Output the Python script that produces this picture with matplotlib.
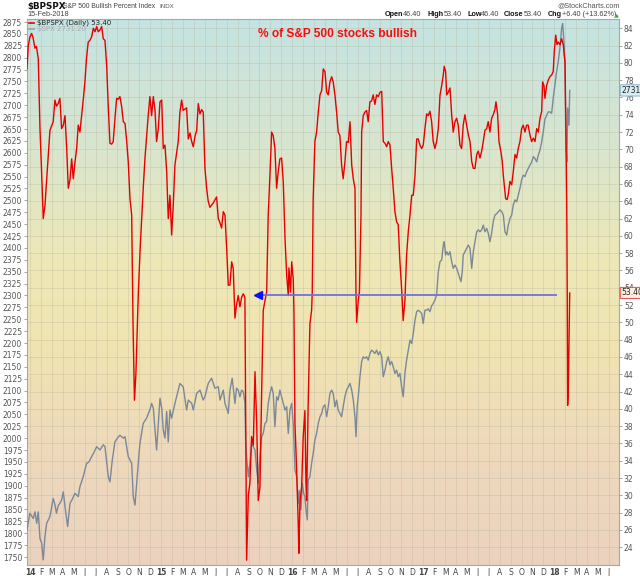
import numpy as np
import matplotlib
matplotlib.use("Agg")
import matplotlib.pyplot as plt
from matplotlib.lines import Line2D
from matplotlib.transforms import blended_transform_factory

# ---------------- data (decimal year, value) ----------------
bpi_2014 = [(2013.976, 79.3), (2013.986, 82.0), (2013.998, 83.0), (2014.011, 83.4), (2014.021, 83.0),
            (2014.037, 81.7), (2014.048, 81.9), (2014.062, 80.5), (2014.075, 72.4), (2014.086, 68.0),
            (2014.100, 62.0), (2014.113, 63.5), (2014.128, 67.0), (2014.151, 72.2), (2014.176, 73.2),
            (2014.189, 75.7), (2014.201, 75.0), (2014.214, 75.3), (2014.227, 75.9), (2014.240, 72.4),
            (2014.253, 72.8), (2014.266, 73.9), (2014.279, 70.1), (2014.291, 65.5), (2014.304, 66.5),
            (2014.317, 68.9), (2014.329, 66.6), (2014.342, 68.5), (2014.355, 70.1), (2014.367, 72.8),
            (2014.380, 72.0), (2014.393, 73.9), (2014.407, 76.0), (2014.418, 77.8), (2014.430, 80.5),
            (2014.443, 82.4), (2014.456, 82.6), (2014.469, 83.0), (2014.482, 84.0), (2014.495, 83.6),
            (2014.508, 84.2), (2014.520, 83.6), (2014.533, 83.8), (2014.546, 84.2), (2014.558, 82.8),
            (2014.571, 82.6), (2014.584, 79.7), (2014.596, 75.0), (2014.609, 70.7), (2014.622, 70.6),
            (2014.634, 70.9), (2014.647, 73.5), (2014.660, 75.9), (2014.672, 75.8), (2014.685, 76.1),
            (2014.698, 75.0), (2014.711, 73.2), (2014.724, 73.0), (2014.737, 70.9), (2014.749, 68.5),
            (2014.762, 64.3), (2014.775, 62.4), (2014.785, 50.0), (2014.796, 41.0), (2014.807, 44.0),
            (2014.825, 53.1), (2014.838, 58.0), (2014.851, 62.0), (2014.863, 65.5), (2014.876, 68.9),
            (2014.889, 71.5), (2014.901, 73.9), (2014.914, 76.1), (2014.927, 73.9), (2014.940, 76.1),
            (2014.953, 74.5), (2014.965, 70.9), (2014.978, 72.4), (2014.991, 75.5)]
bpi_2015 = [(2015.004, 75.7), (2015.016, 70.1), (2015.029, 70.5), (2015.042, 67.4), (2015.054, 62.0),
            (2015.067, 64.7), (2015.080, 60.1), (2015.092, 63.5), (2015.105, 68.2), (2015.130, 70.9),
            (2015.143, 74.3), (2015.156, 75.7), (2015.168, 74.5), (2015.194, 74.8), (2015.207, 71.2),
            (2015.220, 71.9), (2015.233, 70.9), (2015.245, 70.3), (2015.258, 71.5), (2015.271, 72.2),
            (2015.283, 75.3), (2015.296, 74.1), (2015.309, 74.6), (2015.321, 74.3), (2015.334, 67.8),
            (2015.347, 65.5), (2015.359, 64.0), (2015.372, 63.3), (2015.397, 63.8), (2015.423, 64.5),
            (2015.436, 62.0), (2015.449, 61.5), (2015.461, 60.9), (2015.474, 62.8), (2015.487, 62.4),
            (2015.500, 58.5), (2015.512, 54.3), (2015.525, 54.3), (2015.538, 57.0), (2015.550, 56.2),
            (2015.563, 50.5), (2015.575, 52.0), (2015.588, 53.1), (2015.601, 51.8), (2015.614, 52.9),
            (2015.626, 53.3), (2015.639, 52.9), (2015.652, 22.5), (2015.665, 30.0), (2015.677, 31.4),
            (2015.690, 36.8), (2015.703, 35.8), (2015.716, 44.3), (2015.729, 38.3), (2015.741, 29.4),
            (2015.754, 31.0), (2015.767, 42.1), (2015.779, 51.4), (2015.792, 52.5), (2015.805, 53.5),
            (2015.817, 62.4), (2015.830, 67.0), (2015.843, 72.0), (2015.855, 71.6), (2015.868, 70.1),
            (2015.881, 65.5), (2015.893, 67.4), (2015.906, 68.9), (2015.919, 69.0), (2015.932, 66.2),
            (2015.945, 59.7), (2015.958, 55.4), (2015.970, 53.1), (2015.975, 56.3), (2015.987, 53.5),
            (2015.996, 57.0)]
bpi_2016 = [(2016.008, 55.0), (2016.013, 51.6), (2016.021, 38.3), (2016.034, 32.9), (2016.046, 26.7),
            (2016.051, 23.3), (2016.059, 29.2), (2016.072, 31.0), (2016.084, 36.8), (2016.097, 39.8),
            (2016.105, 31.4), (2016.110, 29.4), (2016.122, 40.6), (2016.135, 49.8), (2016.148, 51.4),
            (2016.153, 53.5), (2016.160, 64.3), (2016.173, 70.9), (2016.186, 72.0), (2016.199, 74.3),
            (2016.212, 76.3), (2016.225, 76.8), (2016.237, 79.3), (2016.250, 79.0), (2016.263, 76.6),
            (2016.275, 76.3), (2016.288, 77.8), (2016.301, 78.4), (2016.313, 77.8), (2016.326, 76.3),
            (2016.339, 74.3), (2016.351, 72.0), (2016.364, 71.6), (2016.377, 68.2), (2016.389, 66.6),
            (2016.402, 68.5), (2016.415, 70.9), (2016.428, 70.8), (2016.441, 73.2), (2016.454, 68.2),
            (2016.466, 66.6), (2016.479, 65.5), (2016.487, 53.0), (2016.492, 50.0), (2016.504, 52.5),
            (2016.513, 53.5), (2016.525, 62.4), (2016.530, 72.0), (2016.542, 73.9), (2016.555, 74.3),
            (2016.568, 74.5), (2016.580, 73.2), (2016.593, 75.5), (2016.606, 75.6), (2016.618, 76.3),
            (2016.631, 75.2), (2016.644, 76.3), (2016.657, 76.1), (2016.670, 76.6), (2016.683, 76.7),
            (2016.695, 70.9), (2016.708, 70.7), (2016.721, 70.3), (2016.733, 70.9), (2016.746, 70.5),
            (2016.759, 67.8), (2016.771, 65.5), (2016.784, 62.8), (2016.797, 61.6), (2016.809, 61.3),
            (2016.822, 57.0), (2016.835, 53.9), (2016.847, 50.2), (2016.860, 52.5), (2016.873, 57.8),
            (2016.886, 60.5), (2016.899, 62.4), (2016.912, 64.7), (2016.924, 64.7), (2016.937, 67.0),
            (2016.950, 71.2), (2016.962, 71.2), (2016.975, 70.5), (2016.988, 70.1)]
bpi_2017 = [(2017.000, 70.5), (2017.013, 72.4), (2017.026, 74.1), (2017.038, 73.9), (2017.051, 74.4),
            (2017.064, 73.2), (2017.076, 70.9), (2017.089, 70.1), (2017.102, 70.9), (2017.115, 72.4),
            (2017.128, 76.3), (2017.141, 77.4), (2017.153, 78.6), (2017.160, 79.6), (2017.171, 79.0),
            (2017.179, 76.3), (2017.191, 76.6), (2017.204, 77.1), (2017.217, 74.0), (2017.229, 72.0),
            (2017.242, 73.2), (2017.255, 73.6), (2017.267, 72.8), (2017.280, 70.5), (2017.293, 70.1),
            (2017.305, 72.8), (2017.318, 74.0), (2017.331, 72.8), (2017.344, 71.7), (2017.357, 70.9),
            (2017.370, 68.6), (2017.382, 67.8), (2017.395, 67.8), (2017.408, 69.4), (2017.420, 69.8),
            (2017.433, 69.0), (2017.446, 69.8), (2017.458, 70.9), (2017.471, 72.2), (2017.484, 72.4),
            (2017.496, 73.2), (2017.509, 72.0), (2017.522, 73.6), (2017.534, 74.0), (2017.547, 74.6),
            (2017.555, 75.5), (2017.568, 74.0), (2017.578, 70.9), (2017.593, 69.7), (2017.603, 68.6),
            (2017.611, 67.0), (2017.618, 65.9), (2017.629, 64.3), (2017.641, 64.2), (2017.649, 64.8),
            (2017.662, 66.3), (2017.675, 65.9), (2017.687, 67.4), (2017.700, 69.4), (2017.713, 69.0),
            (2017.725, 70.1), (2017.738, 70.9), (2017.751, 72.4), (2017.763, 72.8), (2017.776, 72.0),
            (2017.789, 72.8), (2017.801, 72.8), (2017.814, 71.7), (2017.827, 70.9), (2017.840, 71.3),
            (2017.853, 70.9), (2017.866, 72.4), (2017.878, 72.0), (2017.891, 73.6), (2017.904, 74.4),
            (2017.911, 77.8), (2017.921, 77.4), (2017.929, 75.9), (2017.942, 77.4), (2017.954, 78.0),
            (2017.967, 78.4), (2017.980, 78.6), (2017.992, 79.0)]
bpi_2018 = [(2018.000, 81.3), (2018.011, 83.2), (2018.021, 82.1), (2018.030, 82.4), (2018.043, 82.1),
            (2018.056, 82.8), (2018.069, 82.1), (2018.076, 80.9), (2018.082, 80.1), (2018.089, 72.0),
            (2018.095, 64.0), (2018.099, 53.2), (2018.102, 40.4), (2018.107, 42.2), (2018.118, 53.4)]

spx_2014 = [(2013.976, 1807), (2013.998, 1842), (2014.024, 1831), (2014.037, 1845), (2014.050, 1821),
            (2014.062, 1845), (2014.075, 1789), (2014.088, 1779), (2014.100, 1744), (2014.113, 1793),
            (2014.126, 1821), (2014.151, 1835), (2014.176, 1873), (2014.189, 1860), (2014.201, 1842),
            (2014.214, 1858), (2014.227, 1863), (2014.240, 1870), (2014.253, 1887), (2014.266, 1856),
            (2014.286, 1814), (2014.304, 1863), (2014.319, 1870), (2014.342, 1884), (2014.367, 1877),
            (2014.380, 1898), (2014.405, 1919), (2014.431, 1947), (2014.449, 1950), (2014.469, 1961),
            (2014.487, 1970), (2014.508, 1982), (2014.533, 1975), (2014.558, 1986), (2014.571, 1982),
            (2014.596, 1919), (2014.609, 1908), (2014.627, 1954), (2014.647, 1992), (2014.666, 2000),
            (2014.685, 2006), (2014.711, 2000), (2014.724, 2003), (2014.749, 1961), (2014.775, 1947),
            (2014.787, 1877), (2014.800, 1859), (2014.813, 1905), (2014.825, 1947), (2014.838, 1989),
            (2014.863, 2031), (2014.889, 2042), (2014.914, 2060), (2014.927, 2073), (2014.940, 2063),
            (2014.953, 2017), (2014.965, 1975), (2014.978, 2031), (2014.991, 2084)]
spx_2015 = [(2015.004, 2063), (2015.016, 2017), (2015.029, 2000), (2015.042, 2056), (2015.054, 1992),
            (2015.067, 2059), (2015.080, 2042), (2015.105, 2073), (2015.130, 2101), (2015.143, 2115),
            (2015.168, 2108), (2015.194, 2059), (2015.207, 2080), (2015.233, 2073), (2015.245, 2059),
            (2015.271, 2094), (2015.296, 2101), (2015.321, 2080), (2015.334, 2087), (2015.359, 2115),
            (2015.385, 2126), (2015.410, 2105), (2015.436, 2108), (2015.449, 2080), (2015.474, 2101),
            (2015.487, 2073), (2015.512, 2052), (2015.525, 2101), (2015.542, 2126), (2015.563, 2073),
            (2015.575, 2105), (2015.588, 2101), (2015.601, 2087), (2015.614, 2101), (2015.626, 2098),
            (2015.639, 2075), (2015.645, 1989), (2015.652, 1961), (2015.665, 1919), (2015.677, 1947),
            (2015.690, 1989), (2015.703, 1982), (2015.716, 1975), (2015.729, 1933), (2015.741, 1905),
            (2015.754, 1961), (2015.767, 2003), (2015.779, 2010), (2015.792, 2031), (2015.805, 2035),
            (2015.817, 2073), (2015.830, 2094), (2015.843, 2108), (2015.855, 2094), (2015.868, 2024),
            (2015.881, 2087), (2015.893, 2080), (2015.906, 2101), (2015.919, 2087), (2015.932, 2073),
            (2015.945, 2059), (2015.958, 2066), (2015.970, 2010), (2015.983, 2059), (2015.996, 2073)]
spx_2016 = [(2016.008, 2031), (2016.021, 1933), (2016.034, 1919), (2016.046, 1863), (2016.054, 1890),
            (2016.067, 1849), (2016.077, 1905), (2016.087, 1884), (2016.097, 1877), (2016.105, 1849),
            (2016.115, 1828), (2016.122, 1912), (2016.135, 1919), (2016.148, 1947), (2016.160, 1968),
            (2016.173, 1996), (2016.186, 2010), (2016.199, 2031), (2016.212, 2045), (2016.225, 2052),
            (2016.237, 2066), (2016.250, 2070), (2016.263, 2045), (2016.275, 2066), (2016.288, 2094),
            (2016.301, 2101), (2016.313, 2094), (2016.326, 2066), (2016.339, 2080), (2016.351, 2059),
            (2016.364, 2052), (2016.377, 2045), (2016.389, 2066), (2016.402, 2087), (2016.415, 2101),
            (2016.428, 2108), (2016.441, 2115), (2016.454, 2101), (2016.466, 2080), (2016.479, 2045),
            (2016.487, 2003), (2016.496, 2066), (2016.504, 2087), (2016.517, 2129), (2016.530, 2161),
            (2016.542, 2171), (2016.555, 2168), (2016.568, 2171), (2016.580, 2164), (2016.593, 2178),
            (2016.606, 2185), (2016.618, 2182), (2016.631, 2178), (2016.644, 2185), (2016.657, 2175),
            (2016.670, 2182), (2016.683, 2171), (2016.695, 2129), (2016.708, 2143), (2016.721, 2161),
            (2016.733, 2171), (2016.746, 2154), (2016.759, 2161), (2016.771, 2150), (2016.784, 2136),
            (2016.797, 2143), (2016.809, 2129), (2016.822, 2136), (2016.835, 2108), (2016.847, 2087),
            (2016.860, 2136), (2016.873, 2164), (2016.886, 2185), (2016.899, 2206), (2016.912, 2199),
            (2016.924, 2220), (2016.937, 2248), (2016.950, 2266), (2016.962, 2269), (2016.975, 2266),
            (2016.988, 2262)]
spx_2017 = [(2017.000, 2241), (2017.013, 2269), (2017.026, 2269), (2017.038, 2272), (2017.051, 2266),
            (2017.064, 2278), (2017.076, 2283), (2017.089, 2290), (2017.102, 2301), (2017.115, 2350),
            (2017.128, 2371), (2017.141, 2375), (2017.153, 2406), (2017.160, 2413), (2017.171, 2385),
            (2017.179, 2392), (2017.191, 2385), (2017.204, 2392), (2017.217, 2371), (2017.229, 2357),
            (2017.242, 2364), (2017.255, 2357), (2017.267, 2347), (2017.280, 2336), (2017.288, 2329),
            (2017.298, 2350), (2017.305, 2385), (2017.318, 2392), (2017.331, 2399), (2017.344, 2406),
            (2017.357, 2399), (2017.370, 2357), (2017.382, 2392), (2017.395, 2413), (2017.408, 2434),
            (2017.420, 2438), (2017.433, 2434), (2017.446, 2438), (2017.458, 2448), (2017.471, 2434),
            (2017.484, 2441), (2017.496, 2431), (2017.509, 2413), (2017.522, 2431), (2017.534, 2455),
            (2017.547, 2469), (2017.560, 2472), (2017.573, 2476), (2017.586, 2480), (2017.599, 2476),
            (2017.611, 2469), (2017.624, 2434), (2017.637, 2427), (2017.649, 2448), (2017.662, 2462),
            (2017.675, 2469), (2017.687, 2490), (2017.700, 2501), (2017.713, 2497), (2017.725, 2511),
            (2017.738, 2525), (2017.751, 2543), (2017.763, 2553), (2017.776, 2550), (2017.789, 2560),
            (2017.801, 2567), (2017.814, 2574), (2017.827, 2580), (2017.840, 2592), (2017.853, 2588),
            (2017.866, 2581), (2017.878, 2595), (2017.891, 2606), (2017.904, 2623), (2017.916, 2644),
            (2017.929, 2671), (2017.942, 2679), (2017.954, 2686), (2017.967, 2686), (2017.980, 2683),
            (2017.992, 2715)]
spx_2018 = [(2018.005, 2743), (2018.018, 2771), (2018.030, 2792), (2018.043, 2820), (2018.056, 2862),
            (2018.064, 2872), (2018.074, 2834), (2018.082, 2780), (2018.089, 2609), (2018.097, 2581),
            (2018.102, 2694), (2018.112, 2658), (2018.118, 2731.2)]

month_letters = ["J", "F", "M", "A", "M", "J", "J", "A", "S", "O", "N", "D"]
year_labels = ["14", "15", "16", "17", "18"]
bpi_ticks = list(range(24, 85, 2))
spx_ticks = list(range(1750, 2876, 25))
last_bpi = 53.40
last_spx = 2731.20
arrow_level = 53.2
arrow_from = 2018.021
arrow_to = 2015.74

bpi_t = [p[0] for seg in (bpi_2014, bpi_2015, bpi_2016, bpi_2017, bpi_2018) for p in seg]
bpi_v = [p[1] for seg in (bpi_2014, bpi_2015, bpi_2016, bpi_2017, bpi_2018) for p in seg]
spx_t = [p[0] for seg in (spx_2014, spx_2015, spx_2016, spx_2017, spx_2018) for p in seg]
spx_v = [p[1] for seg in (spx_2014, spx_2015, spx_2016, spx_2017, spx_2018) for p in seg]

# ---------------- figure ----------------
W, H = 640, 576
fig = plt.figure(figsize=(W / 100, H / 100), dpi=100)
fig.patch.set_facecolor("white")

def fx(px):
    return px / W

def fy(py):
    return 1 - py / H

ax_bg = fig.add_axes([fx(27), fy(565), fx(619) - fx(27), fy(18.5) - fy(565)])
XL = (2013.976, 2018.494)
BPI_L = (21.95, 85.13)
SPX_L = (1733.2, 2882.4)
ax_bg.set_xlim(*XL)
ax_bg.set_ylim(*BPI_L)
ax_bg.set_autoscale_on(False)

# gradient background
stops = [0.0, 0.2, 0.45, 0.62, 0.8, 1.0]
cols = ["#c4e3e2", "#d5e5d2", "#eee8b6", "#f0e3b2", "#eed9bc", "#ebd2bf"]
rgb_cols = np.array([matplotlib.colors.to_rgb(c) for c in cols])
f = np.linspace(0, 1, 300)
grad = np.stack([np.interp(f, stops, rgb_cols[:, i]) for i in range(3)], axis=-1).reshape(300, 1, 3)
ax_bg.imshow(grad, extent=(0, 1, 0, 1), transform=ax_bg.transAxes, aspect="auto",
             origin="upper", zorder=0, interpolation="bilinear")

ax_s = ax_bg.twinx()
ax_r = ax_bg.twinx()

month_pos = [2014 + i / 12 for i in range(54)]
month_lab = [year_labels[i // 12] if i % 12 == 0 else month_letters[i % 12] for i in range(54)]
ax_bg.set_xticks(month_pos)
ax_bg.set_xticklabels(month_lab)
for i, lab in enumerate(ax_bg.get_xticklabels()):
    if i % 12 == 0:
        lab.set_fontweight("bold")
        lab.set_color("#111111")
ax_bg.set_yticks(bpi_ticks)
ax_bg.set_yticklabels([str(v) for v in bpi_ticks])
ax_bg.yaxis.tick_right()
ax_bg.tick_params(axis="y", which="both", right=True, left=False, labelright=True, labelleft=False,
                  length=2, width=0.6, color="#999999", labelsize=5.5, labelcolor="#555555", pad=1.5)
ax_bg.tick_params(axis="x", length=0, labelsize=5.5, labelcolor="#444444", pad=2)
ax_bg.set_axisbelow(True)
ax_bg.grid(True, color="#b3b09a", lw=0.5, alpha=0.42)
for s in ax_bg.spines.values():
    s.set_color("#a8a8a8")
    s.set_linewidth(0.8)

ax_s.set_ylim(*SPX_L)
ax_s.yaxis.tick_left()
ax_s.set_yticks(spx_ticks)
ax_s.set_yticklabels([str(v) for v in spx_ticks])
ax_s.tick_params(axis="y", which="both", left=True, right=False, labelleft=True, labelright=False,
                 length=2, width=0.6, color="#999999", labelsize=5.5, labelcolor="#555555", pad=1.5)
for s in ax_s.spines.values():
    s.set_visible(False)
ax_s.plot(spx_t, spx_v, color="#7b8898", lw=1.0, solid_joinstyle="round")

ax_r.set_ylim(*BPI_L)
ax_r.yaxis.set_visible(False)
for s in ax_r.spines.values():
    s.set_visible(False)
ax_r.plot(bpi_t, bpi_v, color="#e60000", lw=1.0, solid_joinstyle="round")

# blue arrow
ax_r.hlines(arrow_level, arrow_to, arrow_from, color="#7070e2", lw=1.3)
ax_r.plot([arrow_to], [arrow_level], marker="<", color="#1010f5", ms=6, mec="#1010f5")

# right-axis value boxes
tr_bpi = blended_transform_factory(ax_bg.transAxes, ax_bg.transData)
tr_spx = blended_transform_factory(ax_s.transAxes, ax_s.transData)
ax_bg.text(1.004, last_spx, "2731.2", transform=tr_spx, fontsize=5.5, va="center", ha="left",
           color="#222222", clip_on=False,
           bbox=dict(boxstyle="round,pad=0.15", fc="#d6eef3", ec="#7fa7c0", lw=0.6))
ax_bg.text(1.004, last_bpi, "53.40", transform=tr_bpi, fontsize=5.5, va="center", ha="left",
           color="#222222", clip_on=False,
           bbox=dict(boxstyle="round,pad=0.15", fc="#fbeede", ec="#e03030", lw=0.6))

# title
fig.text(fx(257.5), fy(34), "% of S&P 500 stocks bullish", color="#ff0a0a", fontsize=8.6,
         fontweight="bold", family="Liberation Sans", ha="left", va="center")

# header
fig.text(fx(27), fy(6), "$BPSPX", fontsize=6.3, fontweight="bold", color="#111111", ha="left", va="center")
fig.text(fx(63), fy(6), "S&P 500 Bullish Percent Index", fontsize=4.9, family="Liberation Sans",
         color="#444444", ha="left", va="center")
fig.text(fx(159), fy(6), "INDX", fontsize=4.4, family="Liberation Sans", color="#555555",
         ha="left", va="center")
fig.text(fx(27.5), fy(14.3), "15-Feb-2018", fontsize=5.2, family="Liberation Sans", color="#444444",
         ha="left", va="center")
fig.text(fx(620), fy(5.5), "@StockCharts.com", fontsize=5.2, family="Liberation Sans", color="#555555",
         ha="right", va="center")
hdr = [("Open", 385, True), ("46.40", 402.5, False), ("High", 427, True), ("53.40", 443.5, False),
       ("Low", 467, True), ("46.40", 480.5, False), ("Close", 504, True), ("53.40", 524, False),
       ("Chg", 547.5, True), ("+6.40 (+13.62%)", 562, False)]
for txt, px, bold in hdr:
    fig.text(fx(px), fy(14.3), txt, fontsize=5.2, family="Liberation Sans",
             fontweight="bold" if bold else "normal",
             color="#111111" if bold else "#444444", ha="left", va="center")
fig.text(fx(617), fy(14.5), "\u25b2", fontsize=3.5, color="#22aa22", ha="center", va="center")

# legend
fig.add_artist(Line2D([fx(29.3), fx(33.5)], [fy(22.7), fy(22.7)], color="#e60000", lw=1.2,
                      transform=fig.transFigure))
fig.text(fx(37), fy(22.7), "$BPSPX (Daily) 53.40", fontsize=5.0, color="#222222", ha="left", va="center")
fig.add_artist(Line2D([fx(29.3), fx(33.5)], [fy(29.3), fy(29.3)], color="#9aa4ae", lw=1.2,
                      transform=fig.transFigure))
fig.text(fx(37), fy(29.3), "$SPX 2731.20", fontsize=5.0, color="#a6aeb6", ha="left", va="center")

fig.savefig("out.png", dpi=100)
